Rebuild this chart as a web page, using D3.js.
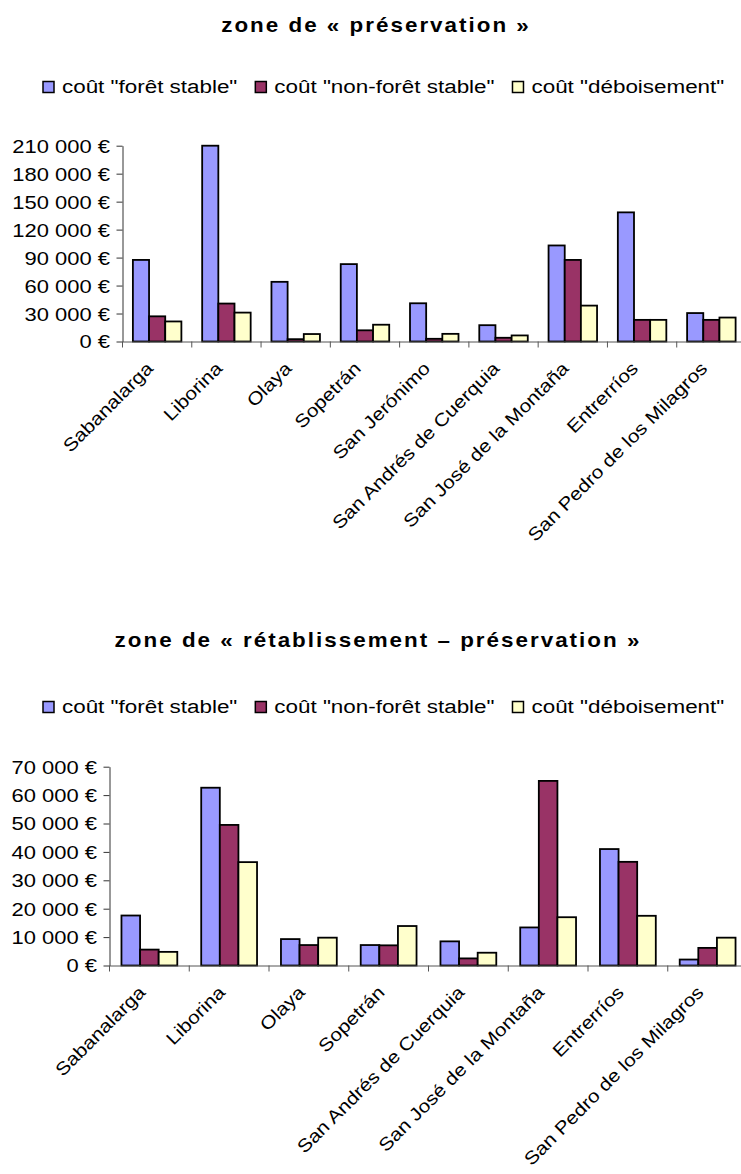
<!DOCTYPE html>
<html>
<head>
<meta charset="utf-8">
<script src="https://cdn.jsdelivr.net/npm/d3@7"></script>
<style>
  body { margin: 0; background: #fff; }
  svg { display: block; font-family: "Liberation Sans", Arial, sans-serif; }
</style>
</head>
<body>
<svg id="chart" width="741" height="1174"></svg>
<script>
// Series shared by both charts
const seriesNames = ['coût "forêt stable"', 'coût "non-forêt stable"', 'coût "déboisement"'];
const seriesColors = ["#9999FF", "#993366", "#FFFFCC"];

// Zone de préservation
const preservationTitle = "zone de « préservation »";
const preservationTowns = ["Sabanalarga", "Liborina", "Olaya", "Sopetrán", "San Jerónimo",
  "San Andrés de Cuerquia", "San José de la Montaña", "Entrerríos", "San Pedro de los Milagros"];
const preservationForest    = [87500, 210000, 64000, 83000, 41000, 17500, 103000, 138500, 30500];
const preservationNonForest = [27000, 40700, 2500, 12000, 2900, 4000, 87500, 23200, 23200];
const preservationDeforest  = [21500, 31000, 8000, 18000, 8200, 6500, 38500, 23200, 25700];
const preservationTicks = [0, 30000, 60000, 90000, 120000, 150000, 180000, 210000];

// Zone de rétablissement – préservation
const restorationTitle = "zone de « rétablissement – préservation »";
const restorationTowns = ["Sabanalarga", "Liborina", "Olaya", "Sopetrán",
  "San Andrés de Cuerquia", "San José de la Montaña", "Entrerríos", "San Pedro de los Milagros"];
const restorationForest    = [17600, 62600, 9300, 7200, 8500, 13400, 41000, 2100];
const restorationNonForest = [5600, 49500, 7200, 7100, 2500, 65000, 36500, 6200];
const restorationDeforest  = [4800, 36400, 9800, 13900, 4500, 17000, 17500, 9800];
const restorationTicks = [0, 10000, 20000, 30000, 40000, 50000, 60000, 70000];

const euro = d3.formatLocale({ decimal: ",", thousands: " ", grouping: [3], currency: ["", " €"] })
  .format("$,.0f");

const svg = d3.select("#chart");
const WIDE = 1.22;        // horizontal widening of the value label font
const CAT_WIDE = 1.16;    // horizontal widening of the rotated category labels
const LEGEND_WIDE = 1.18; // horizontal widening of the legend font

function drawChart(cfg) {
  const g = svg.append("g");
  const series = [cfg.forest, cfg.nonForest, cfg.deforest];

  // title
  g.append("text")
    .attr("transform", `translate(${cfg.titleX},${cfg.titleY}) scale(1.12,1)`)
    .attr("text-anchor", "middle")
    .style("font-size", "20px").style("font-weight", "bold")
    .style("letter-spacing", "1.8px")
    .attr("fill", "#000")
    .text(cfg.title);

  // legend
  const lg = g.append("g").attr("transform", `translate(${cfg.legendX},${cfg.legendY})`);
  let cx = 0;
  seriesNames.forEach((name, i) => {
    lg.append("rect")
      .attr("x", cx).attr("y", -11.5).attr("width", 11).attr("height", 11)
      .attr("fill", seriesColors[i]).attr("stroke", "#000").attr("stroke-width", 1.5);
    const t = lg.append("text")
      .attr("transform", `translate(${cx + 19},0) scale(${LEGEND_WIDE},1)`)
      .style("font-size", "19px").attr("fill", "#000")
      .text(name);
    cx += 19 + t.node().getComputedTextLength() * LEGEND_WIDE + 18;
  });

  const x = d3.scaleBand().domain(cfg.towns).range([cfg.left, cfg.right])
    .paddingInner(0.3).paddingOuter(0.15);
  const sub = d3.scaleBand().domain(d3.range(series.length)).range([0, x.bandwidth()]);
  const y = d3.scaleLinear().domain([0, cfg.max]).range([cfg.base, cfg.top]);

  // bars
  const groups = g.append("g").selectAll("g").data(cfg.towns).join("g")
    .attr("transform", d => `translate(${x(d)},0)`);
  groups.selectAll("rect")
    .data((d, i) => series.map((s, k) => ({ k, v: s[i] })))
    .join("rect")
    .attr("x", d => sub(d.k))
    .attr("y", d => y(d.v))
    .attr("width", sub.bandwidth())
    .attr("height", d => cfg.base - y(d.v))
    .attr("fill", d => seriesColors[d.k])
    .attr("stroke", "#000").attr("stroke-width", 1.8);

  // y axis
  const ya = g.append("g").attr("transform", `translate(${cfg.left},0)`)
    .call(d3.axisLeft(y).tickValues(cfg.ticks).tickFormat(euro).tickSize(6).tickSizeOuter(0));
  ya.select(".domain").attr("stroke", "#333");
  ya.selectAll(".tick line").attr("stroke", "#333");
  ya.selectAll(".tick text")
    .attr("x", -12.5 / WIDE).attr("dy", "0.36em")
    .attr("transform", `scale(${WIDE},1)`)
    .style("font-size", "18px").attr("fill", "#000")
    .attr("font-family", null);

  // x axis
  const xa = g.append("g").attr("transform", `translate(0,${cfg.base})`)
    .call(d3.axisBottom(x).tickSize(0).tickFormat("").tickSizeOuter(0));
  xa.select(".domain").attr("stroke", "#555");
  const bounds = d3.range(cfg.towns.length + 1)
    .map(i => x(cfg.towns[0]) - x.step() * x.paddingOuter() + i * x.step());
  xa.selectAll("line.bound").data(bounds).join("line").attr("class", "bound")
    .attr("x1", d => d).attr("x2", d => d).attr("y1", 0).attr("y2", 6)
    .attr("stroke", "#555");

  // category labels
  g.append("g").selectAll("text").data(cfg.towns).join("text")
    .attr("transform", d =>
      `translate(${x(d) + x.bandwidth() / 2 - 3},${cfg.base + 28}) rotate(-45) scale(${CAT_WIDE},1)`)
    .attr("text-anchor", "end")
    .style("font-size", "18px").attr("fill", "#000")
    .text(d => d);
}

drawChart({
  title: preservationTitle, titleX: 376, titleY: 32,
  legendX: 43, legendY: 93,
  towns: preservationTowns,
  forest: preservationForest, nonForest: preservationNonForest, deforest: preservationDeforest,
  ticks: preservationTicks, max: 210000,
  left: 122.5, right: 746, base: 341.5, top: 145.7
});

drawChart({
  title: restorationTitle, titleX: 378, titleY: 647,
  legendX: 43, legendY: 713,
  towns: restorationTowns,
  forest: restorationForest, nonForest: restorationNonForest, deforest: restorationDeforest,
  ticks: restorationTicks, max: 70000,
  left: 109.5, right: 747.5, base: 965.5, top: 766.7
});
</script>
</body>
</html>
